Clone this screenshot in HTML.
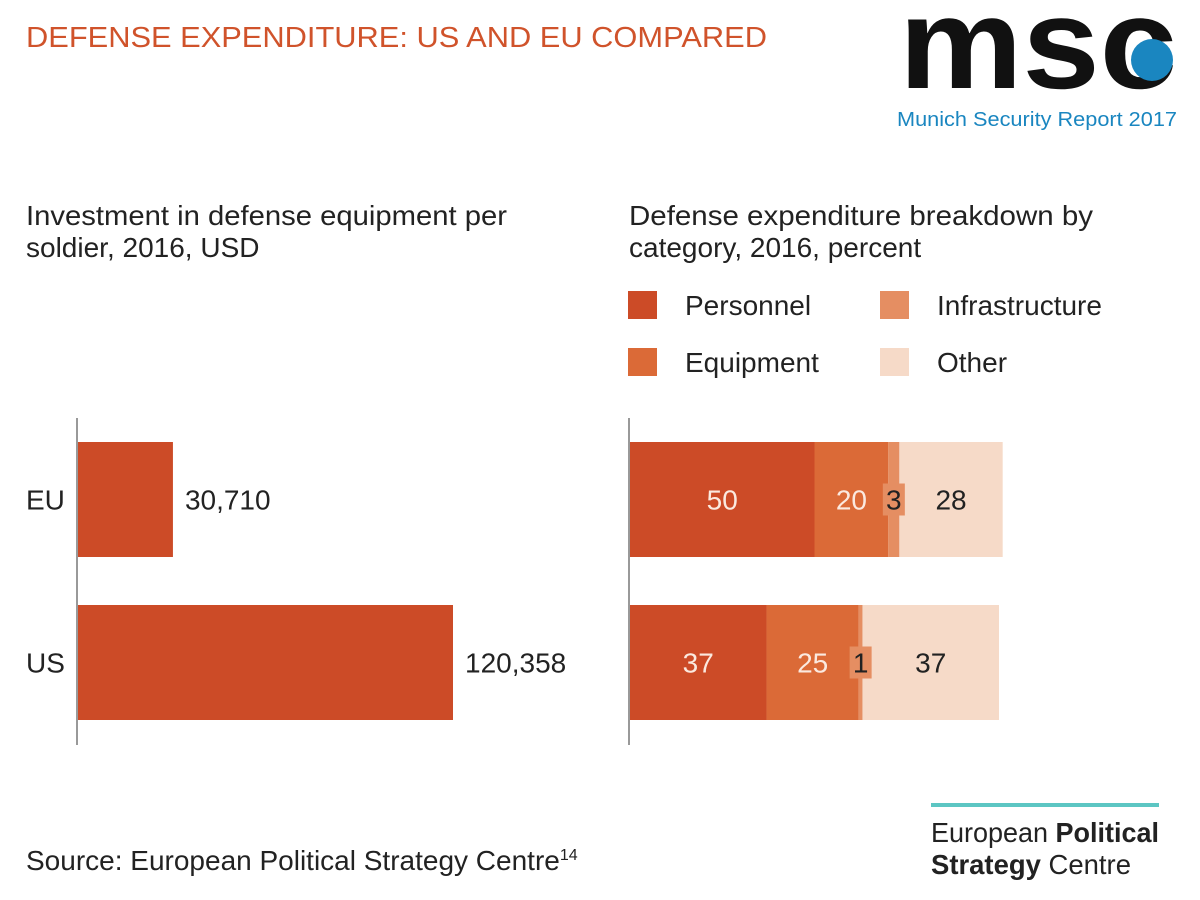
<!DOCTYPE html>
<html><head><meta charset="utf-8"><style>
html,body{margin:0;padding:0;background:#fff;}
svg{display:block;font-family:"Liberation Sans",Arial,sans-serif;}
</style></head><body>
<svg id="chart" width="1200" height="900" viewBox="0 0 1200 900">
<text x="26" y="47" font-size="29" fill="#d0532b" textLength="741" lengthAdjust="spacingAndGlyphs">DEFENSE EXPENDITURE: US AND EU COMPARED</text>
<g>
<g transform="translate(0,88) scale(1,1.2) translate(0,-88)">
<text x="899" y="88" font-size="108" font-weight="bold" fill="#111" textLength="278" lengthAdjust="spacingAndGlyphs">msc</text>
</g>
<circle cx="1152" cy="60" r="21" fill="#1a86c0"/>
<text x="897" y="126" font-size="20" fill="#1a86c0" textLength="280" lengthAdjust="spacingAndGlyphs">Munich Security Report 2017</text>
</g>
<text x="26" y="225" font-size="28" fill="#222" textLength="481" lengthAdjust="spacingAndGlyphs">Investment in defense equipment per</text>
<text x="26" y="257" font-size="28" fill="#222">soldier, 2016, USD</text>
<text x="629" y="225" font-size="28" fill="#222" textLength="464" lengthAdjust="spacingAndGlyphs">Defense expenditure breakdown by</text>
<text x="629" y="257" font-size="28" fill="#222">category, 2016, percent</text>
<g id="legend"></g>
<g id="left"></g>
<g id="right"></g>
<text x="26" y="870" font-size="28" fill="#222">Source: European Political Strategy Centre<tspan font-size="16" dy="-10">14</tspan></text>
<g>
<rect x="931" y="803" width="228" height="4" fill="#5cc6c3"/>
<text x="931" y="842" font-size="28" fill="#222" textLength="228" lengthAdjust="spacingAndGlyphs">European <tspan font-weight="bold">Political</tspan></text>
<text x="931" y="874" font-size="28" fill="#222" textLength="200" lengthAdjust="spacingAndGlyphs"><tspan font-weight="bold">Strategy</tspan> Centre</text>
</g>
</svg>
<script>
const regions = ["EU","US"];
const perSoldier = [30710,120358];
const perSoldierLabels = ["30,710","120,358"];
const categories = ["Personnel","Equipment","Infrastructure","Other"];
const personnel = [50,37];
const equipment = [20,25];
const infrastructure = [3,1];
const other = [28,37];
const colors = ["#cc4b27","#db6a37","#e58e62","#f6dac8"];
const NS="http://www.w3.org/2000/svg";
function mk(tag,attrs,parent,txt){const e=document.createElementNS(NS,tag);for(const k in attrs)e.setAttribute(k,attrs[k]);if(txt!==undefined)e.textContent=txt;parent.appendChild(e);return e;}
const rowY=[442,605], barH=115;
const L=document.getElementById('left');
const x0=77, xs=v=>x0+v*(376/120358);
const ax=mk('line',{x1:x0,x2:x0,y1:418,y2:745,stroke:'#999','stroke-width':2},L);

regions.forEach((r,i)=>{
 const b=mk('rect',{x:x0+1,y:rowY[i],width:xs(perSoldier[i])-x0-1,height:barH,fill:'#cc4b27'},L);
 
 const c=mk('text',{x:26,y:rowY[i]+barH/2+10,'font-size':28,fill:'#222'},L,r);
 
 const v=mk('text',{x:xs(perSoldier[i])+12,y:rowY[i]+barH/2+10,'font-size':28,fill:'#222'},L,perSoldierLabels[i]);
 
});
const R=document.getElementById('right');
const rx0=630, unit=3.69;
const ax2=mk('line',{x1:rx0-1,x2:rx0-1,y1:418,y2:745,stroke:'#999','stroke-width':2},R);

const series=[personnel,equipment,infrastructure,other];
const labels=[];
regions.forEach((r,i)=>{
 let acc=0;
 series.forEach((s,k)=>{
  const x=rx0+acc*unit,w=s[i]*unit;
  const seg=mk('rect',{x:x,y:rowY[i],width:w,height:barH,fill:colors[k]},R);
  
  
  labels.push({r:r,k:k,v:s[i],cx:x+w/2,y:rowY[i]});
  acc+=s[i];
 });
});
labels.forEach(o=>{
 if(o.v<5){
  const bx=mk('rect',{x:o.cx-11,y:o.y+barH/2-16,width:22,height:32,fill:colors[o.k]},R);
  
  
 }
 const t=mk('text',{x:o.cx,y:o.y+barH/2+10,'font-size':28,'text-anchor':'middle',fill:(o.k<2?'#fbe9df':'#222')},R,String(o.v));
 
 
});
const G=document.getElementById('legend');
const lp=[[628,291],[880,291],[628,348],[880,348]];
[0,2,1,3].forEach((k,j)=>{
 const p=lp[j];
 const sw=mk('rect',{x:p[0],y:p[1],width:29,height:28,fill:colors[k]},G);
 
 const t=mk('text',{x:p[0]+57,y:p[1]+24,'font-size':28,fill:'#222'},G,categories[k]);
 
});
</script>
</body></html>
